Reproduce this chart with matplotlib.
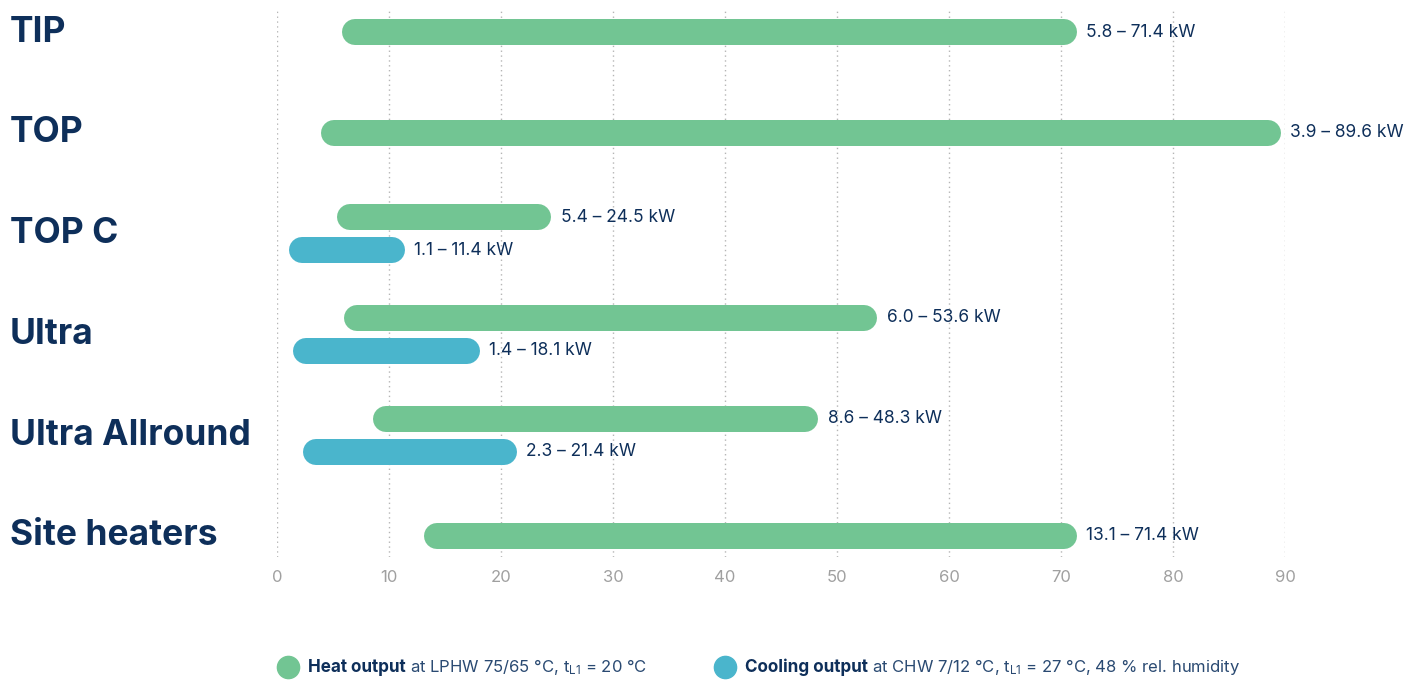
import matplotlib.pyplot as plt
from matplotlib.lines import Line2D

# data
categories = ['TIP', 'TOP', 'TOP C', 'Ultra', 'Ultra Allround', 'Site heaters']
heat_lo = [5.8, 3.9, 5.4, 6.0, 8.6, 13.1]
heat_hi = [71.4, 89.6, 24.5, 53.6, 48.3, 71.4]
cool_lo = [None, None, 1.1, 1.4, 2.3, None]
cool_hi = [None, None, 11.4, 18.1, 21.4, None]
xticks = [0, 10, 20, 30, 40, 50, 60, 70, 80, 90]

green, blue = '#72c593', '#4ab5cc'
navy = '#0e2f5a'
grey = '#a0a0a0'
fam = 'Inter'

fig = plt.figure(figsize=(14.21, 6.8), dpi=100)
ax = fig.add_axes([277 / 1421, 123 / 680, 1008 / 1421, 547 / 680])
ax.set_xlim(0, 90)
ax.set_ylim(5.21, -0.22)

for s in ax.spines.values():
    s.set_visible(False)
ax.set_yticks([])
ax.set_xticks(xticks)
ax.tick_params(axis='x', length=0, pad=9, labelsize=12, labelcolor=grey)
for t in ax.get_xticklabels():
    t.set_family(fam)
ax.grid(axis='x', linestyle=(0, (1, 2.5)), color='#b5b5b5', lw=1)
ax.set_axisbelow(True)

# bar geometry: 26 px thick, rounded ends kept inside the value range
bar_px = 26
px_per_unit = 1008 / 90
r = bar_px / 2 / px_per_unit
lw = bar_px * 72 / 100
off = 0.163


def pill(y, lo, hi, color, text):
    ax.plot([lo + r, hi - r], [y, y], color=color, lw=lw,
            solid_capstyle='round', zorder=3)
    ax.annotate(text, (hi, y), xytext=(7, 0), textcoords='offset points',
                va='center', ha='left', fontsize=12.5, color=navy,
                family=fam, annotation_clip=False)


for i, name in enumerate(categories):
    ax.annotate(name, xy=(0, i), xycoords=('figure fraction', 'data'),
                xytext=(7, 0), textcoords='offset points',
                fontsize=25.5, fontweight='bold', color=navy, family=fam,
                va='center', ha='left', annotation_clip=False)
    lab = '{:.1f} \u2013 {:.1f} kW'
    if cool_lo[i] is None:
        pill(i, heat_lo[i], heat_hi[i], green, lab.format(heat_lo[i], heat_hi[i]))
    else:
        pill(i - off, heat_lo[i], heat_hi[i], green,
             lab.format(heat_lo[i], heat_hi[i]))
        pill(i + off, cool_lo[i], cool_hi[i], blue,
             lab.format(cool_lo[i], cool_hi[i]))


# legend built from text pieces
def legend_item(x, color, bold, rest):
    fig.add_artist(Line2D([x], [13 / 680], marker='o', markersize=16,
                          color=color, transform=fig.transFigure, ls=''))
    t1 = fig.text(x + 20 / 1421, 13 / 680, bold, fontsize=12.3, fontweight='bold',
                  color=navy, family=fam, va='center')
    fig.canvas.draw()
    bb = t1.get_window_extent()
    fig.text(bb.x1 / 1421 + 4 / 1421, 13 / 680, rest, fontsize=12,
             color='#2a4a72', family=fam, va='center')


legend_item(288 / 1421, green, 'Heat output',
            r'at LPHW 75/65 °C, $\mathregular{t_{L1}}$ = 20 °C')
legend_item(725 / 1421, blue, 'Cooling output',
            r'at CHW 7/12 °C, $\mathregular{t_{L1}}$ = 27 °C, 48 % rel. humidity')

plt.savefig('out.png', dpi=100)
